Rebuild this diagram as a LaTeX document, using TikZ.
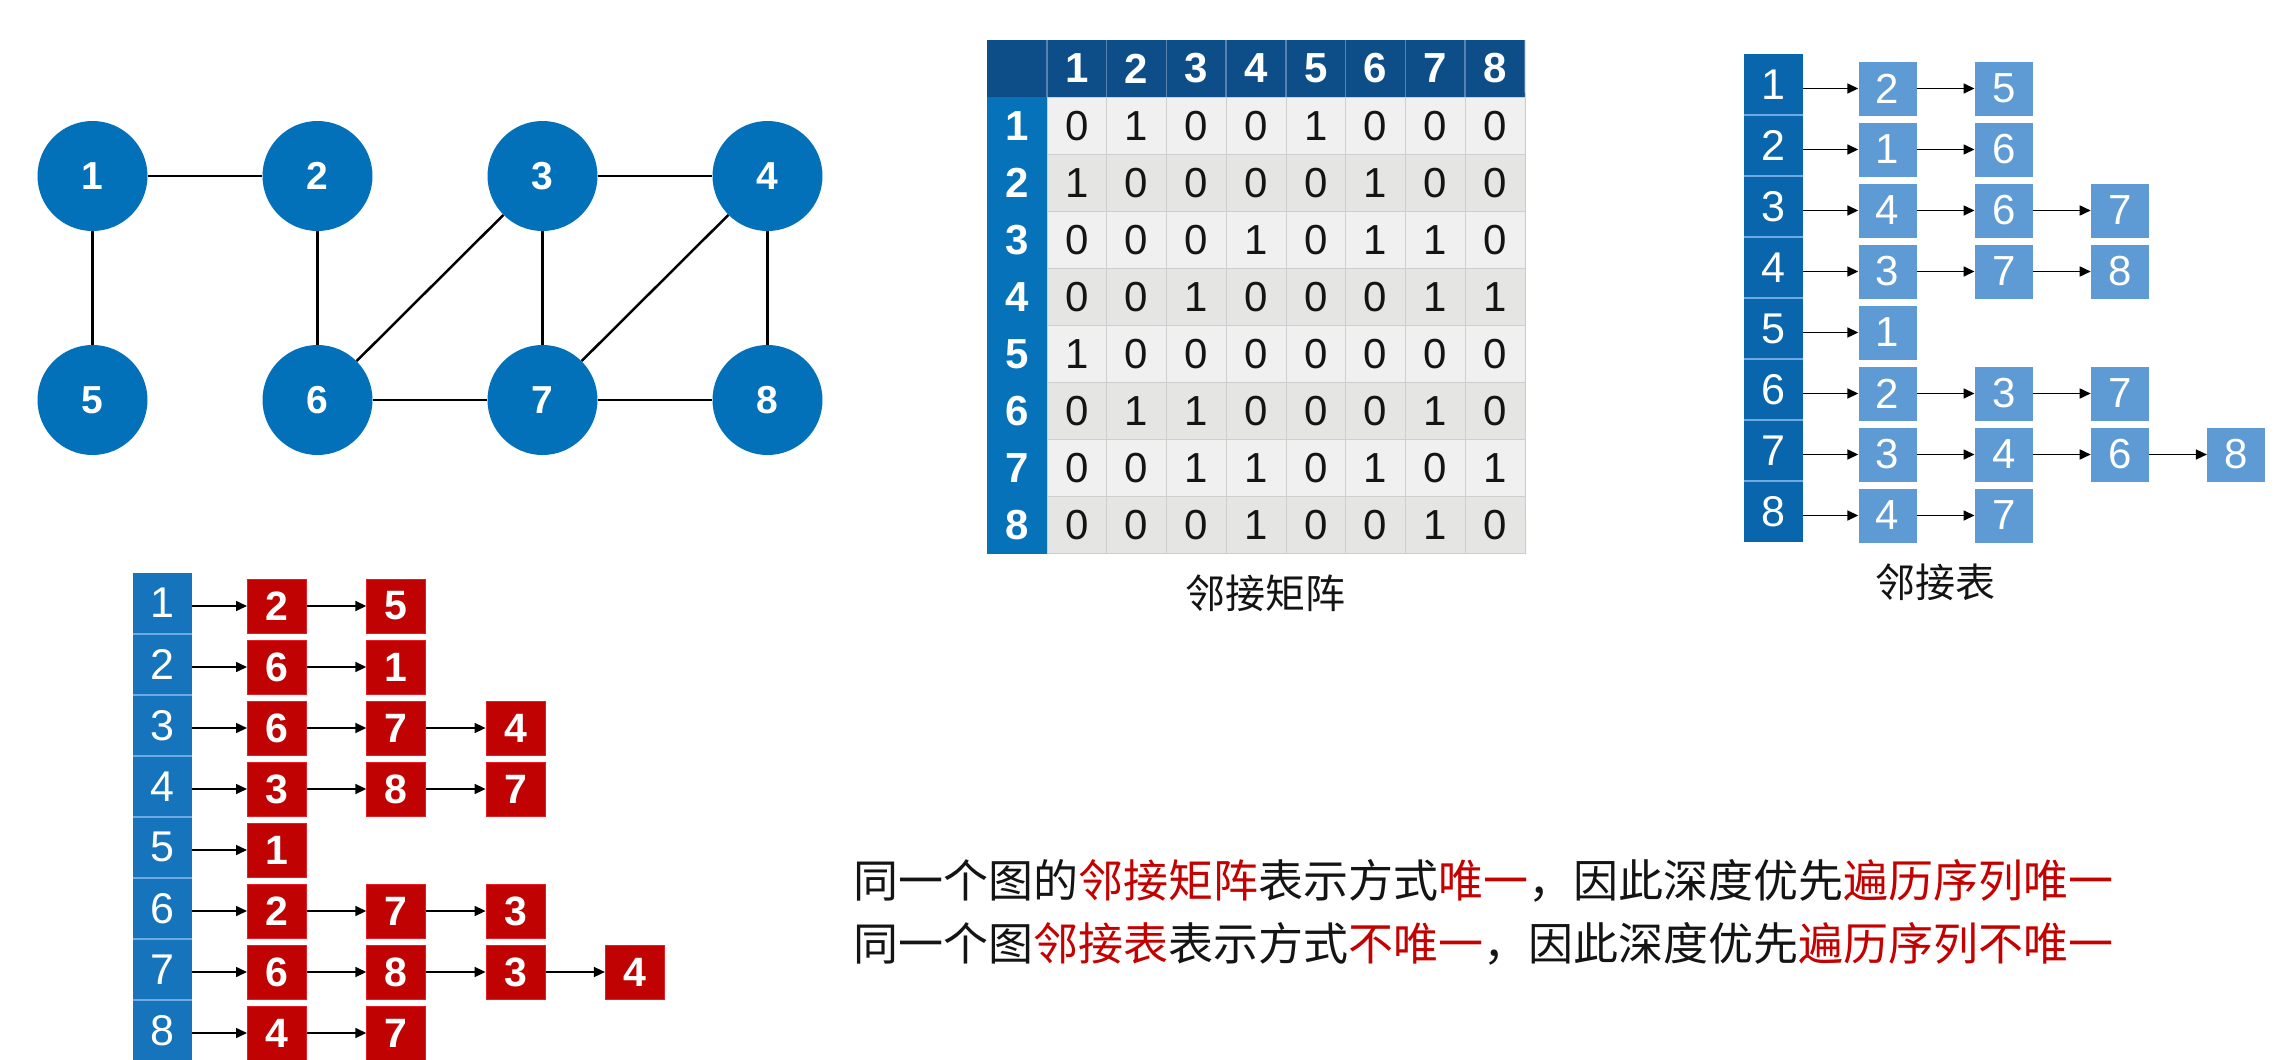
\documentclass[tikz,border=0pt]{standalone}
\usepackage{fontspec}
\setmainfont{Liberation Sans}
\newfontfamily\cjk{Noto Sans CJK SC}
\usetikzlibrary{arrows.meta}

\definecolor{nodeblue}{RGB}{2,113,185}
\definecolor{hdrblue}{RGB}{14,78,136}
\definecolor{hdrsep}{RGB}{90,130,175}
\definecolor{rowblue}{RGB}{6,114,186}
\definecolor{headblue}{RGB}{10,102,172}
\definecolor{cellblue}{RGB}{94,155,212}
\definecolor{listblue}{RGB}{22,116,188}
\definecolor{listsep}{RGB}{110,170,225}
\definecolor{boxred}{RGB}{192,2,2}
\definecolor{edgered}{RGB}{228,30,36}
\definecolor{hired}{RGB}{196,0,0}
\definecolor{cellA}{RGB}{240,240,240}
\definecolor{cellB}{RGB}{229,229,227}
\definecolor{gridgray}{RGB}{206,206,206}
\definecolor{inkblack}{RGB}{20,20,20}

\newcommand{\hl}[1]{\textcolor{hired}{#1}}

\begin{document}
\begin{tikzpicture}[x=1pt,y=-1pt,
  vert/.style={circle,fill=nodeblue,text=white,inner sep=0pt,minimum size=110pt,
    font=\fontsize{39}{39}\selectfont\bfseries},
  gedge/.style={line width=2.5pt,black},
  mhead/.style={rectangle,fill=hdrblue,text=white,inner sep=0pt,
    minimum width=59.75pt,minimum height=57pt,font=\fontsize{42}{42}\selectfont\bfseries},
  mlabel/.style={rectangle,fill=rowblue,text=white,inner sep=0pt,
    minimum width=60pt,minimum height=57.1pt,font=\fontsize{42}{42}\selectfont\bfseries},
  mcell/.style={rectangle,draw=gridgray,line width=1pt,text=inkblack,inner sep=0pt,
    minimum width=59.75pt,minimum height=57.1pt,font=\fontsize{42}{42}\selectfont},
  headA/.style={rectangle,fill=headblue,text=white,inner sep=0pt,
    minimum width=59pt,minimum height=61pt,font=\fontsize{43}{43}\selectfont},
  boxA/.style={rectangle,fill=cellblue,text=white,inner sep=0pt,
    minimum width=58pt,minimum height=54pt,font=\fontsize{42}{42}\selectfont},
  headB/.style={rectangle,fill=listblue,text=white,inner sep=0pt,
    minimum width=58.4pt,minimum height=61pt,font=\fontsize{43}{43}\selectfont},
  boxB/.style={rectangle,fill=boxred,draw=edgered,line width=1pt,text=white,inner sep=0pt,
    minimum width=59pt,minimum height=54pt,font=\fontsize{41}{41}\selectfont\bfseries},
  link/.style={-{Triangle[length=11pt,width=10pt]},line width=1.6pt,black},
  caption/.style={inner sep=0pt,text=inkblack,font=\cjk\fontsize{40}{40}\selectfont},
  remark/.style={inner sep=0pt,anchor=west,text=inkblack,font=\cjk\fontsize{45}{45}\selectfont}
]
\useasboundingbox (0,0) rectangle (2278,1060);
\fill[white] (0,0) rectangle (2278,1060);

% ---------- undirected graph ----------
\node[vert] (v1) at (92.5,176) {1};
\node[vert] (v2) at (317.5,176) {2};
\node[vert] (v3) at (542.5,176) {3};
\node[vert] (v4) at (767.5,176) {4};
\node[vert] (v5) at (92.5,400) {5};
\node[vert] (v6) at (317.5,400) {6};
\node[vert] (v7) at (542.5,400) {7};
\node[vert] (v8) at (767.5,400) {8};
\foreach \a/\b in {1/2,1/5,2/6,3/4,3/6,3/7,4/7,4/8,6/7,7/8}
  \draw[gedge] (v\a) -- (v\b);

% ---------- adjacency matrix ----------
\node[mhead] (m0-0) at (1017,68.5) {};
\foreach \k in {1,...,8}
  \node[mhead] (m0-\k) at ({1047+59.75*(\k-0.5)},68.5) {\k};
\foreach \row/\vals in {1/{0,1,0,0,1,0,0,0},2/{1,0,0,0,0,1,0,0},
                        3/{0,0,0,1,0,1,1,0},4/{0,0,1,0,0,0,1,1},
                        5/{1,0,0,0,0,0,0,0},6/{0,1,1,0,0,0,1,0},
                        7/{0,0,1,1,0,1,0,1},8/{0,0,0,1,0,0,1,0}} {
  \node[mlabel] (m\row-0) at (1017,{97+57.1*(\row-0.5)}) {\row};
  \ifodd\row \def\rowfill{cellA}\else\def\rowfill{cellB}\fi
  \foreach \v [count=\k] in \vals
    \node[mcell,fill=\rowfill] (m\row-\k) at ({1047+59.75*(\k-0.5)},{97+57.1*(\row-0.5)}) {\v};
}
\foreach \k in {1,...,8}
  \draw[hdrsep,line width=1.5pt] (m0-\k.north west) -- (m0-\k.south west);
\draw[gridgray,line width=1pt] (m0-8.north east) -- (m8-8.south east);
\node[caption] (capM) at (1265,593) {邻接矩阵};

% ---------- adjacency list ----------
\foreach \row/\lst in {1/{2,5},2/{1,6},3/{4,6,7},4/{3,7,8},
                       5/{1},6/{2,3,7},7/{3,4,6,8},8/{4,7}} {
  \node[headA] (h\row) at (1773.5,{84.5+61*(\row-1)}) {\row};
  \foreach \v [count=\k] in \lst {
    \node[boxA] (a\row-\k) at ({1887.5+116.2*(\k-1)},{88.5+61*(\row-1)}) {\v};
    \ifnum\k=1
      \draw[link] (h\row.east |- a\row-\k.center) -- (a\row-\k.west);
    \else
      \pgfmathtruncatemacro\prevk{\k-1}
      \draw[link] (a\row-\prevk.east) -- (a\row-\k.west);
    \fi
  }
}
\foreach \row in {1,...,7}
  \draw[listsep,line width=1.5pt] (h\row.south west) -- (h\row.south east);
\node[caption] (capL) at (1935,582) {邻接表};

% ---------- adjacency list with another order ----------
\foreach \row/\lst in {1/{2,5},2/{6,1},3/{6,7,4},4/{3,8,7},
                       5/{1},6/{2,7,3},7/{6,8,3,4},8/{4,7}} {
  \node[headB] (g\row) at (162.5,{603.2+61*(\row-1)}) {\row};
  \foreach \v [count=\k] in \lst {
    \node[boxB] (b\row-\k) at ({277+119.3*(\k-1)},{606+61*(\row-1)}) {\v};
    \ifnum\k=1
      \draw[link] (g\row.east |- b\row-\k.center) -- (b\row-\k.west);
    \else
      \pgfmathtruncatemacro\prevk{\k-1}
      \draw[link] (b\row-\prevk.east) -- (b\row-\k.west);
    \fi
  }
}
\foreach \row in {1,...,7}
  \draw[listsep,line width=1.5pt] (g\row.south west) -- (g\row.south east);

% ---------- remarks ----------
\node[remark] (r1) at (853,881) {同一个图的\hl{邻接矩阵}表示方式\hl{唯一}，因此深度优先\hl{遍历序列唯一}};
\node[remark] (r2) at (853,944) {同一个图\hl{邻接表}表示方式\hl{不唯一}，因此深度优先\hl{遍历序列不唯一}};
\end{tikzpicture}
\end{document}
